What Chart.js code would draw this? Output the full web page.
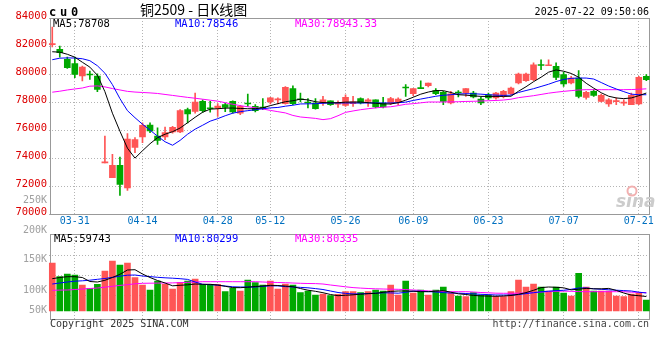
<!DOCTYPE html>
<html>
<head>
<meta charset="utf-8">
<title>cu0 日K线图</title>
<script src="https://cdn.jsdelivr.net/npm/chart.js@4.4.1/dist/chart.umd.min.js"></script>
<style>
  html, body { margin: 0; padding: 0; background: #fff; }
  #wrap { position: relative; width: 660px; height: 360px; overflow: hidden; }
  #wrap canvas { position: absolute; left: 0; }
  #kline { top: 0; }
  #volume { top: 224px; }
</style>
</head>
<body>
<div id="wrap">
  <canvas id="kline" width="660" height="228"></canvas>
  <canvas id="volume" width="660" height="136"></canvas>
</div>
<script>
// trading days shown on the chart
const dates = [
  '03-26','03-27','03-28','03-31','04-01','04-02','04-03','04-07','04-08','04-09',
  '04-10','04-11','04-14','04-15','04-16','04-17','04-18','04-21','04-22','04-23',
  '04-24','04-25','04-28','04-29','04-30','05-06','05-07','05-08','05-09','05-12',
  '05-13','05-14','05-15','05-16','05-19','05-20','05-21','05-22','05-23','05-26',
  '05-27','05-28','05-29','05-30','06-03','06-04','06-05','06-06','06-09','06-10',
  '06-11','06-12','06-13','06-16','06-17','06-18','06-19','06-20','06-23','06-24',
  '06-25','06-26','06-27','06-30','07-01','07-02','07-03','07-04','07-07','07-08',
  '07-09','07-10','07-11','07-14','07-15','07-16','07-17','07-18','07-21','07-22'
];
const dateTicks = ['03-31','04-14','04-28','05-12','05-26','06-09','06-23','07-07','07-21'];

const open = [
  82100,81760,81040,80740,79860,79940,79860,73650,72590,73470,
  71860,74760,75500,76360,75570,75500,75860,75860,77450,77330,
  78040,77530,77560,77810,78040,77210,77870,77690,77580,78000,
  78150,77880,78950,78170,77940,77930,77930,78090,77850,77760,
  77880,78240,78040,78160,77930,77930,78000,79010,78590,78960,
  79160,78810,78690,77930,78650,78640,78640,78210,78520,78290,
  78400,78590,79360,79520,79590,80620,80590,80540,79950,79360,
  79710,78330,78760,78040,77860,78030,77920,77810,77860,79830
];
const high = [
  83360,82000,81210,81210,80570,80210,80020,75570,74260,74070,
  75740,75450,76520,76520,76160,76210,76260,77450,77570,78640,
  78160,78040,77880,77930,78090,77760,78570,77810,78240,78330,
  78290,79110,79160,78640,78240,78240,78400,78090,78090,78520,
  78400,78290,78240,78160,78330,78330,78290,79240,78950,79520,
  79360,78950,78760,78760,78810,78950,78760,78360,78640,78690,
  78830,79070,80070,80070,80790,81020,81020,80790,80140,79830,
  80240,78760,78880,78570,78240,78290,78160,78640,79830,79950
];
const low = [
  81930,81210,80400,79740,79500,79610,78740,73650,72590,71330,
  71690,74380,75090,75810,74970,75310,75770,75810,76500,77210,
  77260,77270,76970,77310,77210,77090,77690,77290,77450,77860,
  77860,77840,77810,78000,77570,77490,77760,77760,77610,77690,
  77690,77860,77690,77570,77570,77810,77810,78400,78450,78950,
  79070,78520,77810,77860,78360,78400,78290,77810,78160,78210,
  78290,78520,79290,79470,79520,80310,80590,79590,79110,79290,
  78290,78210,78400,78000,77690,77810,77760,77810,77810,79520
];
const close = [
  82110,81520,80450,79970,80500,79930,78900,73660,73470,72110,
  75360,75310,76330,75930,75260,75810,76190,77380,77140,78000,
  77380,77520,77700,77610,77290,77690,77860,77380,77570,78290,
  78160,79040,77880,78160,77930,77520,78160,77810,77860,78330,
  78020,77930,78160,77640,77640,78240,78210,79000,78950,78950,
  79360,78590,78040,78590,78640,78950,78360,77930,78290,78640,
  78760,79000,80000,80000,80660,80610,80600,79760,79290,79710,
  78400,78690,78470,78470,78160,78040,77930,78470,79760,79590
];

// price moving averages as drawn on the chart
const ma5 = [
  81590,81560,81410,81200,80840,80490,79910,78740,77200,75910,
  74700,73990,74520,75020,75450,75700,75880,76140,76520,76910,
  77270,77490,77520,77560,77570,77540,77520,77520,77590,77740,
  77880,78020,78090,78200,78150,78020,77960,77940,77950,77990,
  78000,78000,77950,77910,77860,77860,77950,78130,78340,78560,
  78710,78820,78810,78680,78520,78490,78440,78400,78400,78400,
  78400,78410,78770,79090,79450,79770,80130,80290,80200,80040,
  79770,79340,78990,78660,78410,78290,78240,78290,78450,78640
];
const ma10 = [
  81020,81130,81150,81140,81090,80950,80590,80060,79240,78240,
  77380,76880,76410,75990,75560,75160,74910,75260,75700,76060,
  76340,76630,76810,77020,77200,77310,77380,77450,77520,77580,
  77610,77700,77770,77860,77870,77880,77910,77930,77930,77930,
  77930,77930,77930,77930,77930,77930,77950,77990,78110,78210,
  78310,78410,78480,78520,78570,78590,78590,78560,78520,78490,
  78470,78490,78680,78820,78950,79110,79270,79460,79610,79690,
  79710,79710,79640,79390,79140,78930,78740,78560,78520,78520
];
const ma30 = [
  78700,78770,78860,78930,79000,79130,79150,79080,78960,78860,
  78760,78710,78680,78650,78610,78540,78470,78400,78330,78270,
  78200,78130,78060,77950,77840,77740,77660,77590,77500,77400,
  77310,77220,77040,76930,76880,76830,76740,76810,77020,77260,
  77360,77450,77520,77580,77630,77660,77740,77840,77880,77940,
  78000,78000,78000,78010,78020,78040,78050,78070,78090,78110,
  78140,78200,78310,78380,78450,78540,78630,78700,78760,78810,
  78860,78880,78880,78880,78880,78880,78880,78890,78910,78940
];

// volume, thousands of lots
const volume = [
  201.6,144.1,155.4,151.2,109.2,95.3,112.1,168.0,210.0,193.2,
  201.6,139.9,109.2,88.2,126.0,112.1,92.4,120.5,126.0,134.4,
  112.1,112.1,112.1,81.1,95.3,84.0,130.2,118.9,109.2,126.0,
  92.4,113.4,109.2,76.9,84.0,67.2,71.4,64.3,70.1,81.1,
  81.1,76.9,81.1,88.2,84.0,109.2,67.2,126.0,75.6,88.2,
  67.2,88.2,100.8,75.6,63.0,60.1,76.9,67.2,67.2,60.1,
  60.1,81.1,130.2,100.8,113.4,100.8,84.0,100.8,75.6,63.0,
  158.3,100.8,84.0,84.0,84.0,63.0,60.1,71.4,75.6,46.2
];
const volMa5 = [
  135.7,140.7,144.1,144.1,140.7,123.9,121.8,128.9,140.7,154.1,
  172.2,173.5,155.4,140.7,128.1,117.6,105.8,107.9,110.0,113.4,
  112.1,112.1,109.2,103.7,98.3,97.9,100.0,102.9,105.0,107.9,
  107.1,104.6,102.1,94.5,87.4,82.7,76.9,69.3,64.3,66.1,
  68.0,70.6,72.7,73.9,78.5,82.3,84.0,84.0,83.2,81.1,
  81.1,83.2,85.3,79.0,72.2,69.3,65.5,63.4,62.6,61.7,
  63.0,65.1,70.1,77.3,86.9,98.3,100.8,99.5,97.4,89.0,
  91.6,94.9,93.2,93.2,94.9,86.5,75.6,66.8,64.3,60.9
];
const volMa10 = [
  113.4,117.6,121.8,125.2,126.8,129.4,133.1,136.5,141.5,146.2,
  150.4,151.2,147.0,144.5,141.5,139.4,137.8,135.7,132.7,121.8,
  112.1,110.5,108.4,105.0,101.6,100.8,100.8,100.8,103.3,105.8,
  105.4,102.5,100.8,99.1,97.4,94.1,90.3,84.0,77.7,73.9,
  71.8,71.8,73.5,74.8,76.4,76.0,74.8,78.5,83.2,82.7,
  81.5,79.8,77.3,75.6,74.8,73.5,71.8,70.1,68.9,67.2,
  67.2,67.2,68.9,73.1,76.9,80.6,83.2,85.7,87.0,91.1,
  96.6,97.0,93.2,91.1,89.0,87.4,85.7,84.0,79.0,75.6
];
const volMa30 = [
  86.9,87.8,88.2,90.3,92.4,94.5,96.6,100.0,103.7,107.5,
  110.5,114.2,116.3,116.8,117.2,117.6,118.0,119.3,120.5,121.8,
  123.1,123.1,123.1,123.1,123.1,123.1,123.1,123.1,121.8,120.5,
  119.7,118.9,117.6,116.3,115.5,115.1,113.4,109.2,105.4,101.6,
  98.3,96.2,94.5,93.2,92.4,91.6,91.1,89.9,88.2,86.5,
  84.4,83.2,81.5,81.1,81.1,81.1,79.8,77.7,76.4,74.8,
  74.4,74.4,74.8,76.0,77.3,79.4,81.1,82.7,83.6,82.7,
  81.5,81.1,81.1,81.1,81.1,81.1,81.1,79.0,78.1,77.3
];
const volGrid = [65.1, 149.1, 233.1];
const volAxisLabels = ['200K', '150K', '100K', '50K'];

const MONO = '"DejaVu Sans Mono", monospace';
const UP = '#ff5555';
const DOWN = '#00a800';
const GRID = '#b4b4b4';
const candleColors = close.map((c, i) => c >= open[i] ? UP : DOWN);

const maLine = (data, color) => ({
  type: 'line', data: data, borderColor: color, borderWidth: 1,
  pointRadius: 0, tension: 0, order: 0
});

const xScale = (showLabels, height) => ({
  type: 'category',
  offset: true,
  afterFit: s => { s.height = height; },
  grid: {
    offset: false,
    drawTicks: false,
    color: c => dateTicks.includes(dates[c.index]) ? GRID : 'rgba(0,0,0,0)'
  },
  border: { display: false, dash: [1, 2] },
  ticks: {
    display: showLabels,
    autoSkip: false,
    maxRotation: 0,
    padding: 1,
    color: '#0070c0',
    font: { family: MONO, size: 10 },
    callback: (v, i) => dateTicks.includes(dates[i]) ? dates[i] : ''
  }
});

function frame(ctx, top, bottom) {
  ctx.save();
  ctx.strokeStyle = '#999';
  ctx.lineWidth = 1;
  ctx.strokeRect(50.5, top + 0.5, 599, bottom - top);
  ctx.restore();
}

const klineText = {
  id: 'klineText',
  beforeDatasetsDraw(chart) { frame(chart.ctx, 18, 214); },
  afterDraw(chart) {
    const ctx = chart.ctx;
    ctx.save();
    ctx.textBaseline = 'alphabetic';
    ctx.fillStyle = '#000';
    ctx.font = 'bold 12px ' + MONO;
    ['c', 'u', '0'].forEach((ch, i) => ctx.fillText(ch, 49 + i * 11, 16));
    ctx.font = '14px "Noto Sans CJK SC"';
    ctx.fillText('铜2509 - 日K线图', 140, 15);
    ctx.font = '10px ' + MONO;
    ctx.textAlign = 'right';
    ctx.fillText('2025-07-22 09:50:06', 649, 15);
    ctx.textAlign = 'left';
    ctx.font = '10.5px ' + MONO;
    ctx.fillText('MA5:78708', 53, 27);
    ctx.fillStyle = '#0000ff';
    ctx.fillText('MA10:78546', 175, 27);
    ctx.fillStyle = '#ff00ff';
    ctx.fillText('MA30:78943.33', 295, 27);
    ctx.textAlign = 'right';
    ctx.textBaseline = 'middle';
    ctx.fillStyle = '#a0a0a0';
    ctx.font = '10px ' + MONO;
    ctx.fillText('250K', 47, 200);
    // watermark
    ctx.textAlign = 'left';
    ctx.textBaseline = 'alphabetic';
    ctx.fillStyle = '#cccccc';
    ctx.font = 'italic bold 17px "DejaVu Sans"';
    ctx.fillText('sina', 616, 207);
    ctx.strokeStyle = '#f2b0b0';
    ctx.lineWidth = 2;
    ctx.beginPath();
    ctx.arc(632, 191, 4.5, 0, Math.PI * 2);
    ctx.stroke();
    ctx.restore();
  }
};

const volumeText = {
  id: 'volumeText',
  beforeDatasetsDraw(chart) { frame(chart.ctx, 10, 95); },
  afterDraw(chart) {
    const ctx = chart.ctx;
    ctx.save();
    ctx.font = '10px ' + MONO;
    ctx.textAlign = 'right';
    ctx.textBaseline = 'middle';
    ctx.fillStyle = '#a0a0a0';
    [6, 35.7, 66.3, 86.5].forEach((y, i) => ctx.fillText(volAxisLabels[i], 47, y));
    ctx.textAlign = 'left';
    ctx.textBaseline = 'alphabetic';
    ctx.font = '10.5px ' + MONO;
    ctx.fillStyle = '#000';
    ctx.fillText('MA5:59743', 54, 17.5);
    ctx.fillStyle = '#0000ff';
    ctx.fillText('MA10:80299', 175, 17.5);
    ctx.fillStyle = '#ff00ff';
    ctx.fillText('MA30:80335', 295, 17.5);
    ctx.font = '10px ' + MONO;
    ctx.fillStyle = '#333';
    ctx.fillText('Copyright 2025 SINA.COM', 50, 103);
    ctx.textAlign = 'right';
    ctx.fillStyle = '#444';
    ctx.fillText('http://finance.sina.com.cn', 649, 103);
    ctx.restore();
  }
};

const common = {
  responsive: false,
  devicePixelRatio: 1,
  animation: false,
  events: [],
  plugins: { legend: { display: false }, tooltip: { enabled: false } }
};

new Chart(document.getElementById('kline'), {
  type: 'bar',
  data: {
    labels: dates,
    datasets: [
      maLine(ma5, '#000000'),
      maLine(ma10, '#0000ff'),
      maLine(ma30, '#ff00ff'),
      {
        data: open.map((o, i) => [o, close[i]]),
        backgroundColor: candleColors,
        barThickness: 6, minBarLength: 1, grouped: false, order: 1
      },
      {
        data: low.map((l, i) => [l, high[i]]),
        backgroundColor: candleColors,
        barThickness: 1, grouped: false, order: 2
      }
    ]
  },
  options: {
    ...common,
    layout: { padding: { top: 18, right: 9.9, bottom: 0, left: 0 } },
    scales: {
      x: xScale(true, 14),
      y: {
        min: 70000, max: 84000,
        afterFit: s => { s.width = 48.5; },
        ticks: {
          stepSize: 2000, color: '#dd0000', padding: 1.5, labelOffset: -1.5,
          font: { family: MONO, size: 10.5 },
          callback: v => String(v)
        },
        grid: { color: GRID, drawTicks: false },
        border: { display: false, dash: [1, 2] }
      }
    }
  },
  plugins: [klineText]
});

new Chart(document.getElementById('volume'), {
  type: 'bar',
  data: {
    labels: dates,
    datasets: [
      maLine(volMa5, '#000000'),
      maLine(volMa10, '#0000ff'),
      maLine(volMa30, '#ff00ff'),
      {
        data: volume,
        backgroundColor: candleColors,
        barThickness: 6, grouped: false, order: 1
      }
    ]
  },
  options: {
    ...common,
    layout: { padding: { top: 10, right: 9.9, bottom: 0, left: 0 } },
    scales: {
      x: xScale(false, 41),
      y: {
        min: -33.6, max: 323.4,
        afterFit: s => { s.width = 48.5; },
        afterBuildTicks: s => { s.ticks = volGrid.map(v => ({ value: v })); },
        ticks: { display: false },
        grid: { color: GRID, drawTicks: false },
        border: { display: false, dash: [1, 2] }
      }
    }
  },
  plugins: [volumeText]
});
</script>
</body>
</html>
